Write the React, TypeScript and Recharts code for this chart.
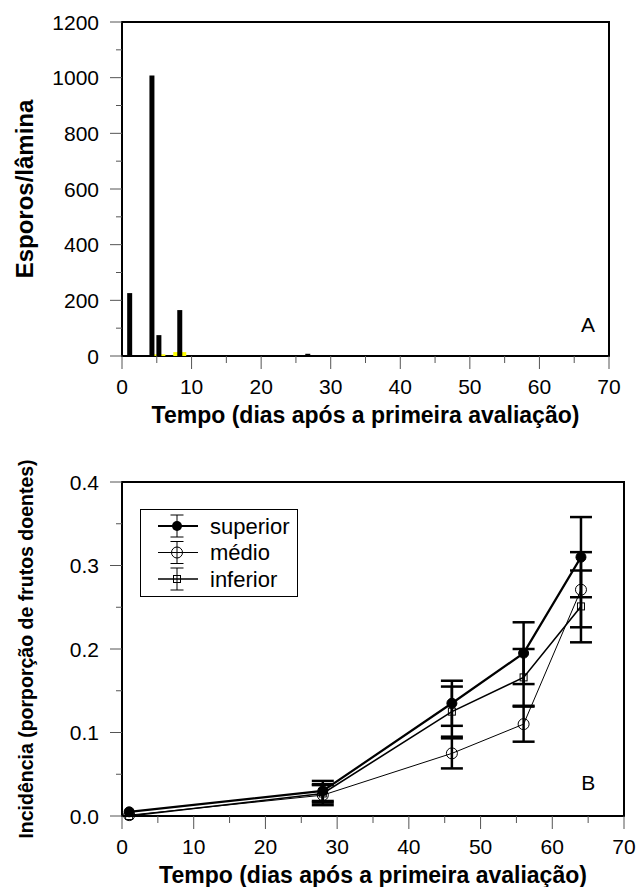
import React from "react"
import {
  ComposedChart,
  Bar,
  Line,
  XAxis,
  YAxis,
  ErrorBar,
  ReferenceArea,
  ReferenceDot,
  Legend,
} from "recharts"

const FONT = '"Liberation Sans", Arial, Helvetica, sans-serif'
const TITULO_X = "Tempo (dias após a primeira avaliação)"

// Painel A - esporos por lâmina
const diasA = [1.1, 4.3, 5.3, 8.3, 26.7]
const esporos = [226, 1008, 75, 165, 8]
const esporosAmarelo = [null, null, 6, 14, null]
const ticksXA = [0, 5, 10, 15, 20, 25, 30, 35, 40, 45, 50, 55, 60, 65, 70]
const ticksYA = [0, 100, 200, 300, 400, 500, 600, 700, 800, 900, 1000, 1100, 1200]

// Painel B - incidência por posição na planta
const diasB = [1, 28, 46, 56, 64]
const superior = [0.005, 0.03, 0.135, 0.195, 0.31]
const medio = [0.001, 0.025, 0.075, 0.11, 0.271]
const inferior = [0.0, 0.027, 0.125, 0.166, 0.251]
const erroSuperior = [null, 0.012, 0.027, 0.037, 0.048]
const erroMedio = [null, 0.012, 0.018, 0.021, 0.045]
const erroInferior = [null, 0.011, 0.03, 0.034, 0.043]
const series = ["superior", "médio", "inferior"]
const ticksYB = [0, 0.05, 0.1, 0.15, 0.2, 0.25, 0.3, 0.35, 0.4]

const dadosA = diasA.map((d, i) => ({ dia: d, esporos: esporos[i], amarelo: esporosAmarelo[i] }))
const dadosB = diasB.map((d, i) => ({
  dia: d,
  superior: superior[i],
  medio: medio[i],
  inferior: inferior[i],
  eSup: erroSuperior[i],
  eMed: erroMedio[i],
  eInf: erroInferior[i],
}))

// ticks com maiores/menores desenhados à mão
const XTick = ({ x, y, payload }: any) => {
  const v = payload.value
  const major = Math.round(v) % 10 === 0
  return (
    <g>
      <line x1={x} x2={x} y1={y} y2={y + (major ? 13 : 7)} stroke="#555" strokeWidth={1} />
      {major && (
        <text x={x} y={y + 38} textAnchor="middle" fontSize={21} fontFamily={FONT} fill="#000">
          {v}
        </text>
      )}
    </g>
  )
}

const makeYTick = (isMajor: (v: number) => boolean, fmt: (v: number) => string) => ({ x, y, payload }: any) => {
  const v = payload.value
  const major = isMajor(v)
  return (
    <g>
      <line x1={x - (major ? 12 : 6)} x2={x} y1={y} y2={y} stroke="#555" strokeWidth={1} />
      {major && (
        <text x={x - 23} y={y + 7.5} textAnchor="end" fontSize={21} fontFamily={FONT} fill="#000">
          {fmt(v)}
        </text>
      )}
    </g>
  )
}

const YTickA = makeYTick((v) => v % 200 === 0, (v) => String(v))
const YTickB = makeYTick((v) => Math.round(v * 100) % 10 === 0, (v) => v.toFixed(1))

const xTitle = (props: any) => {
  const { x, y, width } = props.viewBox
  return (
    <text x={x + width / 2} y={y + 67} textAnchor="middle" fontSize={23} fontWeight="bold" fontFamily={FONT} fill="#000">
      {TITULO_X}
    </text>
  )
}

const yTitle = (texto: string, size: number) => (props: any) => {
  const { y, height } = props.viewBox
  const cy = y + height / 2
  return (
    <text
      x={33}
      y={cy}
      transform={`rotate(-90, 33, ${cy})`}
      textAnchor="middle"
      fontSize={size}
      fontWeight="bold"
      fontFamily={FONT}
      fill="#000"
    >
      {texto}
    </text>
  )
}

const painelLabel = (letra: string) => (props: any) => {
  const { x, y } = props.viewBox
  return (
    <text x={x} y={y + 7.5} textAnchor="middle" fontSize={21} fontFamily={FONT} fill="#000">
      {letra}
    </text>
  )
}

const YellowBar = (p: any) => {
  if (!p.height) return null
  return <rect x={p.x + p.width / 2 - 6.5} y={p.y} width={13} height={p.height} fill="#ffff00" />
}

const SquareDot = (p: any) => {
  if (p.cx == null || p.cy == null) return null
  return <rect key={p.key} x={p.cx - 3.5} y={p.cy - 3.5} width={7} height={7} fill="none" stroke="#000" strokeWidth={1} />
}

const estiloSerie: Record<string, { traco: number; marcador: string }> = {
  superior: { traco: 2.2, marcador: "cheio" },
  "médio": { traco: 1, marcador: "circulo" },
  inferior: { traco: 1.6, marcador: "quadrado" },
}

const Legenda = () => (
  <svg width={159} height={89}>
    <rect x={0.5} y={0.5} width={157} height={87} fill="#fff" stroke="#000" strokeWidth={1} />
    {series.map((nome, i) => {
      const cy = 17 + i * 26.5
      const est = estiloSerie[nome]
      return (
        <g key={nome}>
          <line x1={18} x2={58} y1={cy} y2={cy} stroke="#000" strokeWidth={est.traco} />
          <line x1={37} x2={37} y1={cy - 11} y2={cy + 11} stroke="#000" strokeWidth={1} />
          <line x1={30.5} x2={43.5} y1={cy - 11} y2={cy - 11} stroke="#000" strokeWidth={1} />
          <line x1={30.5} x2={43.5} y1={cy + 11} y2={cy + 11} stroke="#000" strokeWidth={1} />
          {est.marcador === "cheio" && <circle cx={37} cy={cy} r={5} fill="#000" />}
          {est.marcador === "circulo" && <circle cx={37} cy={cy} r={5.5} fill="none" stroke="#000" strokeWidth={1} />}
          {est.marcador === "quadrado" && (
            <rect x={33.5} y={cy - 3.5} width={7} height={7} fill="none" stroke="#000" strokeWidth={1} />
          )}
          <text x={70} y={cy + 7.5} fontSize={22} fontFamily={FONT} fill="#000">
            {nome}
          </text>
        </g>
      )
    })}
  </svg>
)

export default function App() {
  return (
    <div style={{ position: "absolute", left: 0, top: 0, width: 638, height: 887, background: "#fff" }}>
      <div style={{ position: "absolute", left: 0, top: 0 }}>
        <ComposedChart width={638} height={430} data={dadosA} margin={{ top: 22, right: 29, bottom: 0, left: 0 }}>
          <XAxis
            xAxisId="a"
            dataKey="dia"
            type="number"
            domain={[0, 70]}
            ticks={ticksXA}
            interval={0}
            tickSize={0}
            tickMargin={0}
            tickLine={false}
            axisLine={false}
            height={74}
            tick={XTick}
            label={xTitle}
          />
          <XAxis xAxisId="b" dataKey="dia" type="number" domain={[0, 70]} hide />
          <YAxis
            type="number"
            domain={[0, 1200]}
            ticks={ticksYA}
            interval={0}
            tickSize={0}
            tickMargin={0}
            tickLine={false}
            axisLine={false}
            width={122}
            tick={YTickA}
            label={yTitle("Esporos/lâmina", 24)}
          />
          <Bar xAxisId="b" dataKey="amarelo" barSize={5} shape={YellowBar} isAnimationActive={false} />
          <Bar xAxisId="a" dataKey="esporos" barSize={5} fill="#000" isAnimationActive={false} />
          <ReferenceArea xAxisId="a" x1={0} x2={70} y1={0} y2={1200} fill="none" stroke="#000" strokeWidth={2} />
          <ReferenceDot xAxisId="a" x={67} y={113} r={0} fill="none" stroke="none" label={painelLabel("A")} />
        </ComposedChart>
      </div>
      <div style={{ position: "absolute", left: 0, top: 440 }}>
        <ComposedChart width={638} height={447} data={dadosB} margin={{ top: 42, right: 14, bottom: 0, left: 0 }}>
          <XAxis
            dataKey="dia"
            type="number"
            domain={[0, 70]}
            ticks={ticksXA}
            interval={0}
            tickSize={0}
            tickMargin={0}
            tickLine={false}
            axisLine={false}
            height={71}
            tick={XTick}
            label={xTitle}
          />
          <YAxis
            type="number"
            domain={[0, 0.4]}
            ticks={ticksYB}
            interval={0}
            tickSize={0}
            tickMargin={0}
            tickLine={false}
            axisLine={false}
            width={122}
            tick={YTickB}
            label={yTitle("Incidência (porporção de frutos doentes)", 19.5)}
          />
          <ReferenceArea x1={0} x2={70} y1={0} y2={0.4} fill="none" stroke="#000" strokeWidth={2} />
          <Line
            dataKey="medio"
            name="médio"
            stroke="#000"
            strokeWidth={1}
            dot={{ r: 5.5, fill: "none", stroke: "#000", strokeWidth: 1 }}
            isAnimationActive={false}
          >
            <ErrorBar dataKey="eMed" width={11} stroke="#000" strokeWidth={2.5} />
          </Line>
          <Line
            dataKey="inferior"
            name="inferior"
            stroke="#000"
            strokeWidth={1.6}
            dot={SquareDot}
            isAnimationActive={false}
          >
            <ErrorBar dataKey="eInf" width={11} stroke="#000" strokeWidth={2.5} />
          </Line>
          <Line
            dataKey="superior"
            name="superior"
            stroke="#000"
            strokeWidth={2.2}
            dot={{ r: 5, fill: "#000", stroke: "#000", strokeWidth: 1 }}
            isAnimationActive={false}
          >
            <ErrorBar dataKey="eSup" width={11} stroke="#000" strokeWidth={2.5} />
          </Line>
          <ReferenceDot x={65} y={0.04} r={0} fill="none" stroke="none" label={painelLabel("B")} />
          <Legend
            layout="horizontal"
            align="center"
            verticalAlign="middle"
            content={Legenda}
            wrapperStyle={{ left: 140, top: 69, width: 159, height: 89 }}
          />
        </ComposedChart>
      </div>
    </div>
  )
}
